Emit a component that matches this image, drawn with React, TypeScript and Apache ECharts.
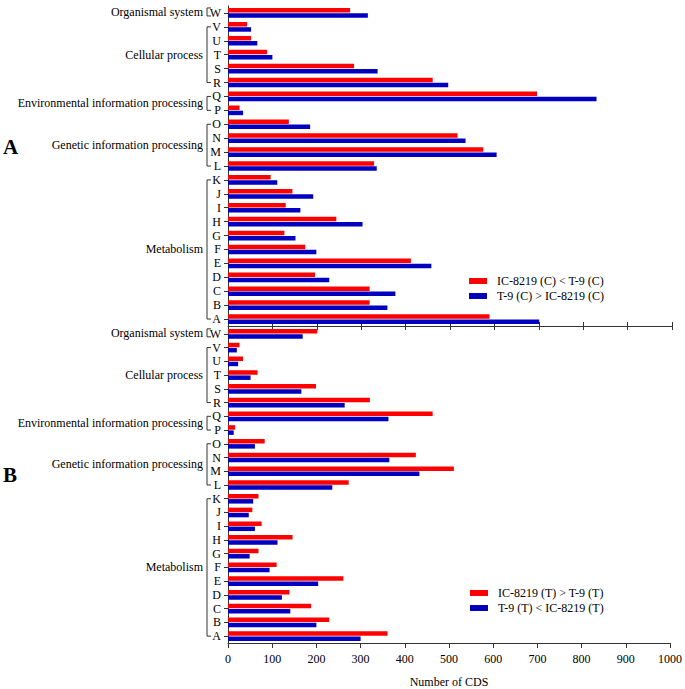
import React, { useEffect, useRef } from 'react';
import * as echarts from 'echarts';

const categories = ['A', 'B', 'C', 'D', 'E', 'F', 'G', 'H', 'I', 'J', 'K', 'L', 'M', 'N', 'O', 'P', 'Q', 'R', 'S', 'T', 'U', 'V', 'W'];

const seriesNamesTop = ['IC-8219 (C) < T-9 (C)', 'T-9 (C) > IC-8219 (C)'];
const seriesNamesBottom = ['IC-8219 (T) > T-9 (T)', 'T-9 (T) < IC-8219 (T)'];

const topRed = [589, 319, 319, 196, 412, 174, 127, 244, 130, 145, 96, 329, 575, 517, 137, 26, 696, 461, 284, 88, 52, 43, 275];
const topBlue = [701, 359, 377, 228, 458, 199, 152, 303, 163, 192, 111, 335, 605, 535, 185, 34, 830, 496, 337, 100, 66, 52, 315];
const bottomRed = [361, 229, 188, 139, 261, 110, 69, 146, 76, 55, 69, 273, 511, 425, 83, 16, 463, 321, 199, 67, 34, 26, 202];
const bottomBlue = [300, 200, 141, 122, 204, 94, 49, 112, 61, 47, 57, 236, 433, 365, 61, 13, 363, 264, 166, 51, 23, 20, 169];

const groups = [
  { name: 'Metabolism', from: 0, to: 10 },
  { name: 'Genetic information processing', from: 11, to: 14 },
  { name: 'Environmental information processing', from: 15, to: 16 },
  { name: 'Cellular process', from: 17, to: 21 },
  { name: 'Organismal system', from: 22, to: 22 },
];

const xTicks = { min: 0, max: 1000, interval: 100 };
const panelLabels = ['A', 'B'];

const FONT = "'Liberation Serif', 'Times New Roman', serif";
const RED = '#ff0000';
const BLUE = '#0000bf';
const AXIS = '#333333';

function bracketSeries(gridIdx: number) {
  return {
    type: 'custom',
    xAxisIndex: gridIdx === 0 ? 0 : 2,
    yAxisIndex: gridIdx,
    silent: true,
    clip: false,
    z: 10,
    data: groups.map((g) => [0, g.from, g.to]),
    renderItem: (params: any, api: any) => {
      const g = groups[params.dataIndex];
      const pFrom = api.coord([0, g.from]);
      const pTo = api.coord([0, g.to]);
      const bx = pFrom[0] - 21;
      let yTop = Math.min(pFrom[1], pTo[1]);
      let yBot = Math.max(pFrom[1], pTo[1]);
      if (g.from === g.to) {
        yTop = pFrom[1] - 5;
        yBot = pFrom[1] + 3;
      }
      return {
        type: 'group',
        children: [
          {
            type: 'polyline',
            shape: { points: [[bx + 4, yTop], [bx, yTop], [bx, yBot], [bx + 4, yBot]] },
            style: { stroke: AXIS, lineWidth: 1, fill: 'none' },
          },
          {
            type: 'text',
            style: {
              text: g.name,
              x: bx - 4,
              y: (yTop + yBot) / 2,
              align: 'right',
              verticalAlign: 'middle',
              fontFamily: FONT,
              fontSize: 12,
              fill: '#000',
            },
          },
        ],
      };
    },
  };
}

export default function App() {
  const ref = useRef<HTMLDivElement>(null);
  useEffect(() => {
    document.body.style.margin = '0';
    const chart = echarts.init(ref.current!, null, { renderer: 'svg' });
    const yAxisBase = {
      type: 'category',
      data: categories,
      axisLine: { show: true, lineStyle: { color: AXIS, width: 1 } },
      axisTick: { show: true, alignWithLabel: true, interval: 0, length: 4, lineStyle: { color: AXIS } },
      axisLabel: { interval: 0, margin: 7, fontFamily: FONT, fontSize: 12, color: '#000' },
      splitLine: { show: false },
    };
    const barBase = { type: 'bar', barWidth: 4.5, barGap: '15%' };
    const legendBase = {
      orient: 'vertical',
      icon: 'rect',
      padding: 0,
      itemWidth: 18,
      itemHeight: 6,
      itemGap: 3,
      textStyle: { fontFamily: FONT, fontSize: 12, color: '#000', padding: [0, 0, 0, 5] },
    };
    const titleStyle = { fontFamily: FONT, fontSize: 21, fontWeight: 'bold', color: '#000' };
    chart.setOption({
      animation: false,
      textStyle: { fontFamily: FONT },
      title: [
        { text: panelLabels[0], left: 3, top: 136, padding: 0, textStyle: titleStyle },
        { text: panelLabels[1], left: 3, top: 464, padding: 0, textStyle: titleStyle },
      ],
      legend: [
        { ...legendBase, data: seriesNamesTop, left: 469, top: 275 },
        { ...legendBase, data: seriesNamesBottom, left: 470, top: 587 },
      ],
      grid: [
        { left: 228, top: 6, width: 444, height: 320 },
        { left: 228, top: 327, width: 444, height: 323 },
      ],
      xAxis: [
        {
          type: 'value', gridIndex: 0, ...xTicks,
          axisLine: { show: true, lineStyle: { color: AXIS } },
          axisTick: { show: true, length: 4, lineStyle: { color: AXIS } },
          axisLabel: { show: false },
          splitLine: { show: false },
        },
        {
          type: 'value', gridIndex: 0, position: 'bottom', ...xTicks,
          axisLine: { show: false },
          axisTick: { show: true, inside: true, length: 4, lineStyle: { color: AXIS } },
          axisLabel: { show: false },
          splitLine: { show: false },
        },
        {
          type: 'value', gridIndex: 1, ...xTicks,
          name: 'Number of CDS',
          nameLocation: 'middle',
          nameGap: 33,
          nameTextStyle: { fontFamily: FONT, fontSize: 12, color: '#000' },
          axisLine: { show: true, lineStyle: { color: AXIS } },
          axisTick: { show: true, length: 5, lineStyle: { color: AXIS } },
          axisLabel: { fontFamily: FONT, fontSize: 12, color: '#000', margin: 10, formatter: (v: number) => String(v) },
          splitLine: { show: false },
        },
      ],
      yAxis: [
        { ...yAxisBase, gridIndex: 0 },
        { ...yAxisBase, gridIndex: 1 },
      ],
      series: [
        { ...barBase, name: seriesNamesTop[0], xAxisIndex: 0, yAxisIndex: 0, data: topRed, itemStyle: { color: RED } },
        { ...barBase, name: seriesNamesTop[1], xAxisIndex: 0, yAxisIndex: 0, data: topBlue, itemStyle: { color: BLUE } },
        { ...barBase, name: seriesNamesBottom[0], xAxisIndex: 2, yAxisIndex: 1, data: bottomRed, itemStyle: { color: RED } },
        { ...barBase, name: seriesNamesBottom[1], xAxisIndex: 2, yAxisIndex: 1, data: bottomBlue, itemStyle: { color: BLUE } },
        bracketSeries(0),
        bracketSeries(1),
      ],
    });
    return () => chart.dispose();
  }, []);
  return <div ref={ref} style={{ width: 685, height: 689 }} />;
}
